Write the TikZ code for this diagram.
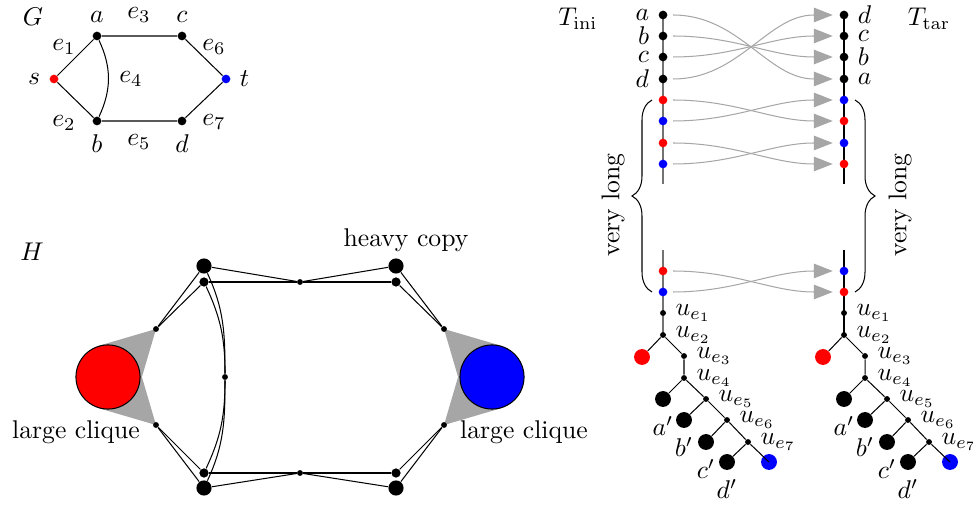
\documentclass[tikz,border=0pt]{standalone}
\usetikzlibrary{positioning, arrows.meta, calc, backgrounds, decorations.pathreplacing}
\tikzset{
    vtx/.style={circle, fill=#1, inner sep=0pt, minimum size=3.4pt},
    vtx/.default=black,
    subvtx/.style={circle, fill=black, inner sep=0pt, minimum size=2.3pt},
    lightvtx/.style={circle, fill=black, inner sep=0pt, minimum size=3.6pt},
    heavyvtx/.style={circle, fill=black, inner sep=0pt, minimum size=5.9pt},
    leafvtx/.style={circle, fill=#1, inner sep=0pt, minimum size=6.2pt},
    leafvtx/.default=black,
    clique/.style={circle, draw=black, fill=#1, inner sep=0pt, minimum size=25pt},
    wedge/.style={fill=gray!70},
    permarr/.style={-{Triangle[length=7.4pt, width=5.7pt]}, gray!70, shorten <=2pt, shorten >=2.5pt},
    spineL/.style={black!55, line width=0.7pt},
    spineR/.style={black, line width=0.6pt},
    longbrace/.style={decorate, decoration={brace, amplitude=7.8pt}},
    elbl/.style={inner sep=1pt},
}
\begin{document}
\begin{tikzpicture}[x=0.39pt, y=0.39pt, every label/.append style={inner sep=1pt}, label distance=2.33pt]
    \useasboundingbox (0,0) rectangle (973,507);
    % graph G
    \node[elbl] (glbl) at (33,490) {$G$};
    \node[vtx, label=above:$a$] (ga) at (97,471) {};
    \node[vtx, label=above:$c$] (gc) at (182,471) {};
    \node[vtx=red, label=left:$s$] (gs) at (54,428) {};
    \node[vtx=blue, label=right:$t$] (gt) at (226,428) {};
    \node[vtx, label=below:$b$] (gb) at (97,386) {};
    \node[vtx, label=below:$d$] (gd) at (182,386) {};
    \draw (gs) -- (ga) -- (gc) -- (gt) -- (gd) -- (gb) -- (gs);
    \draw (ga) to[bend left=25] (gb);
    \node[elbl] (ge1) at (64,460) {$e_1$};
    \node[elbl] (ge2) at (64,384) {$e_2$};
    \node[elbl] (ge3) at (139,492) {$e_3$};
    \node[elbl] (ge4) at (131,428) {$e_4$};
    \node[elbl] (ge5) at (139,365) {$e_5$};
    \node[elbl] (ge6) at (214,460) {$e_6$};
    \node[elbl] (ge7) at (214,385) {$e_7$};
    % graph H
    \node[elbl] (hlbl) at (32,255) {$H$};
    \node[clique=red] (hcl) at (108,130) {};
    \node[clique=blue] (hcr) at (492,130) {};
    \node[subvtx] (hlu) at (156,178) {};
    \node[subvtx] (hld) at (156,82) {};
    \node[heavyvtx] (haH) at (204,241) {};
    \node[lightvtx] (haL) at (204,225) {};
    \node[lightvtx] (hbL) at (204,34) {};
    \node[heavyvtx] (hbH) at (204,19) {};
    \node[subvtx] (he3) at (300,225) {};
    \node[subvtx] (he4) at (225,130) {};
    \node[subvtx] (he5) at (300,34) {};
    \node[heavyvtx] (hcH) at (396,241) {};
    \node[lightvtx] (hcL) at (396,225) {};
    \node[lightvtx] (hdL) at (396,34) {};
    \node[heavyvtx] (hdH) at (396,19) {};
    \node[subvtx] (hru) at (444,178) {};
    \node[subvtx] (hrd) at (444,82) {};
    \node[elbl] (hhc) at (406,267) {heavy copy};
    \node[elbl] (hlcl) at (76,75) {large clique};
    \node[elbl] (hlcr) at (524,75) {large clique};
    \draw (hlu) -- (haH); \draw (hlu) -- (haL);
    \draw (hld) -- (hbL); \draw (hld) -- (hbH);
    \draw (haH) -- (he3) -- (hcH); \draw (haL) -- (he3) -- (hcL);
    \draw (hbL) -- (he5) -- (hdL); \draw (hbH) -- (he5) -- (hdH);
    \draw (hcH) -- (hru); \draw (hcL) -- (hru);
    \draw (hdL) -- (hrd); \draw (hdH) -- (hrd);
    \draw (haH) to[out=-65, in=90] (he4);
    \draw (haL) to[out=-65, in=90] (he4);
    \draw (he4) to[out=-90, in=65] (hbL);
    \draw (he4) to[out=-90, in=65] (hbH);
    % sequences T_ini and T_tar
    \node[elbl] (tini) at (578,488) {$T_{\mathrm{ini}}$};
    \node[elbl] (ttar) at (929,488) {$T_{\mathrm{tar}}$};
    \node[vtx, label=left:$a$] (i1) at (663,492) {};
    \node[vtx, label=left:$b$] (i2) at (663,471) {};
    \node[vtx, label=left:$c$] (i3) at (663,450) {};
    \node[vtx, label=left:$d$] (i4) at (663,428) {};
    \node[vtx=red] (i5) at (663,407) {};
    \node[vtx=blue] (i6) at (663,386) {};
    \node[vtx=red] (i7) at (663,364) {};
    \node[vtx=blue] (i8) at (663,343) {};
    \node[vtx=red] (i9) at (663,236) {};
    \node[vtx=blue] (i10) at (663,215) {};
    \node[vtx, label=right:$d$] (t1) at (844,492) {};
    \node[vtx, label=right:$c$] (t2) at (844,471) {};
    \node[vtx, label=right:$b$] (t3) at (844,450) {};
    \node[vtx, label=right:$a$] (t4) at (844,428) {};
    \node[vtx=blue] (t5) at (844,407) {};
    \node[vtx=red] (t6) at (844,386) {};
    \node[vtx=blue] (t7) at (844,364) {};
    \node[vtx=red] (t8) at (844,343) {};
    \node[vtx=blue] (t9) at (844,236) {};
    \node[vtx=red] (t10) at (844,215) {};
    \foreach \s/\t in {1/4, 2/3, 3/2, 4/1, 5/6, 6/5, 7/8, 8/7, 9/10, 10/9}
        \draw[permarr] (i\s) to[out=0, in=180] (t\t);
    % the two trees below the sequences
    \foreach \p/\x in {i/663, t/844} {
        \node[subvtx, label={right:$u_{e_1}$}] (\p-u1) at (\x,194) {};
        \node[subvtx, label={right:$u_{e_2}$}] (\p-u2) at (\x,172) {};
        \node[subvtx, label={right:$u_{e_3}$}] (\p-u3) at (\x+21,151) {};
        \node[subvtx, label={right:$u_{e_4}$}] (\p-u4) at (\x+21,129) {};
        \node[subvtx, label={right:$u_{e_5}$}] (\p-u5) at (\x+43,108) {};
        \node[subvtx, label={right:$u_{e_6}$}] (\p-u6) at (\x+64,87) {};
        \node[subvtx, label={right:$u_{e_7}$}] (\p-u7) at (\x+85,65) {};
        \node[leafvtx=red] (\p-lr) at (\x-21,150) {};
        \node[leafvtx, label={below:$a'$}] (\p-la) at (\x,108) {};
        \node[leafvtx, label={below:$b'$}] (\p-lb) at (\x+21,87) {};
        \node[leafvtx, label={below:$c'$}] (\p-lc) at (\x+43,65) {};
        \node[leafvtx, label={below:$d'$}] (\p-ld) at (\x+64,45) {};
        \node[leafvtx=blue] (\p-lt) at (\x+106,45) {};
        \draw (\p-u2) -- (\p-lr);
        \draw (\p-u2) -- (\p-u3) -- (\p-u4) -- (\p-u5) -- (\p-u6) -- (\p-u7);
        \draw (\p-u4) -- (\p-la);
        \draw (\p-u5) -- (\p-lb);
        \draw (\p-u6) -- (\p-lc);
        \draw (\p-u7) -- (\p-ld);
        \draw (\p-u7) -- (\p-lt.center);
    }
    % braces
    \coordinate (lbb) at (652,215);
    \coordinate (lbt) at (652,407);
    \coordinate (rbt) at (855,407);
    \coordinate (rbb) at (855,215);
    \draw[longbrace] (lbb) -- (lbt);
    \draw[longbrace] (rbt) -- (rbb);
    \node[elbl, rotate=90] (lvl) at (613,302) {very long};
    \node[elbl, rotate=90] (rvl) at (900,302) {very long};
    % spines and wedges behind
    \coordinate (iend) at (663,323);
    \coordinate (istart) at (663,257);
    \coordinate (tend) at (844,323);
    \coordinate (tstart) at (844,257);
    \begin{scope}[on background layer]
        \draw[spineL] (i1.center) -- (iend);
        \draw[spineL] (istart) -- (i-u2.center);
        \draw[spineR] (t1.center) -- (tend);
        \draw[spineR] (tstart) -- (t-u2.center);
        \fill[wedge] (hlu.center) -- (tangent cs:node=hcl, point={(hlu.center)}, solution=1) -- (tangent cs:node=hcl, point={(hlu.center)}, solution=2) -- cycle;
        \fill[wedge] (hld.center) -- (tangent cs:node=hcl, point={(hld.center)}, solution=1) -- (tangent cs:node=hcl, point={(hld.center)}, solution=2) -- cycle;
        \fill[wedge] (hru.center) -- (tangent cs:node=hcr, point={(hru.center)}, solution=1) -- (tangent cs:node=hcr, point={(hru.center)}, solution=2) -- cycle;
        \fill[wedge] (hrd.center) -- (tangent cs:node=hcr, point={(hrd.center)}, solution=1) -- (tangent cs:node=hcr, point={(hrd.center)}, solution=2) -- cycle;
    \end{scope}
\end{tikzpicture}
\end{document}
